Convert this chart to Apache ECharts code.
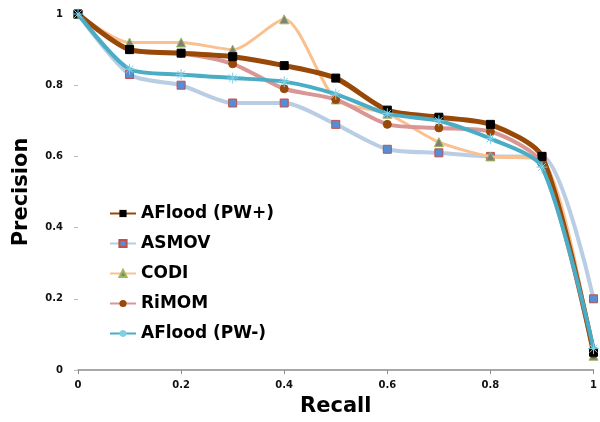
<!DOCTYPE html>
<html><head><meta charset="utf-8">
<script src="https://cdn.jsdelivr.net/npm/echarts@6/dist/echarts.min.js"></script>
<style>html,body{margin:0;padding:0;background:#fff}#c{width:600px;height:422px}</style>
</head><body><div id="c"></div>
<script>
const recall = [0, 0.1, 0.2, 0.3, 0.4, 0.5, 0.6, 0.7, 0.8, 0.9, 1.0];
const afloodPWplus = [1, 0.90, 0.89, 0.88, 0.855, 0.82, 0.73, 0.71, 0.69, 0.60, 0.05];
const asmov        = [1, 0.83, 0.80, 0.75, 0.75, 0.69, 0.62, 0.61, 0.60, 0.60, 0.20];
const codi         = [1, 0.92, 0.92, 0.90, 0.985, 0.76, 0.72, 0.64, 0.60, 0.59, 0.04];
const rimom        = [1, 0.90, 0.89, 0.86, 0.79, 0.76, 0.69, 0.68, 0.67, 0.58, 0.045];
const afloodPWminus= [1, 0.845, 0.83, 0.82, 0.81, 0.775, 0.72, 0.70, 0.65, 0.57, 0.06];
const xTicks = [0, 0.2, 0.4, 0.6, 0.8, 1];
const yTicks = [0, 0.2, 0.4, 0.6, 0.8, 1];

const pairs = a => recall.map((r, i) => [r, a[i]]);
const starPath = 'path://M0,5L10,5M5,0L5,10M1.5,1.5L8.5,8.5M8.5,1.5L1.5,8.5';
const font = 'DejaVu Sans';

const chart = echarts.init(document.getElementById('c'));
chart.setOption({
  animation: false,
  grid: {left: 78, right: 2, top: 14, bottom: 46},
  legend: {
    orient: 'vertical', left: 104, top: 200, itemGap: 13, itemWidth: 26, itemHeight: 9,
    textStyle: {fontFamily: font, fontWeight: 'bold', fontSize: 17, color: '#000'},
    data: ['AFlood (PW+)', 'ASMOV', 'CODI', 'RiMOM', 'AFlood (PW-)']
  },
  xAxis: {
    type: 'value', min: 0, max: 1, interval: 0.2,
    name: 'Recall', nameLocation: 'middle', nameGap: 26,
    nameTextStyle: {fontFamily: font, fontWeight: 'bold', fontSize: 21, color: '#000'},
    axisLine: {lineStyle: {color: '#8c8c8c', width: 1.5}},
    axisTick: {show: true, length: 4, lineStyle: {color: '#8c8c8c'}},
    axisLabel: {fontFamily: font, fontWeight: 'bold', fontSize: 10, color: '#111', margin: 10,
      formatter: v => xTicks.includes(+v.toFixed(1)) ? String(+v.toFixed(1)) : ''},
    splitLine: {show: false}
  },
  yAxis: {
    type: 'value', min: 0, max: 1, interval: 0.2,
    name: 'Precision', nameLocation: 'middle', nameGap: 46,
    nameTextStyle: {fontFamily: font, fontWeight: 'bold', fontSize: 21, color: '#000'},
    axisLine: {show: false},
    axisTick: {show: true, length: 4, lineStyle: {color: '#bbb'}},
    axisLabel: {fontFamily: font, fontWeight: 'bold', fontSize: 10, color: '#111', margin: 15,
      formatter: v => yTicks.includes(+v.toFixed(1)) ? String(+v.toFixed(1)) : ''},
    splitLine: {show: false}
  },
  series: [
    {name: 'ASMOV', type: 'line', smooth: 0.25, data: pairs(asmov), z: 2,
     lineStyle: {color: '#B9CDE5', width: 4}, symbol: 'rect', symbolSize: 8,
     itemStyle: {color: '#558ED5', borderColor: '#C0504D', borderWidth: 1}},
    {name: 'CODI', type: 'line', smooth: 0.25, data: pairs(codi), z: 3,
     lineStyle: {color: '#FAC090', width: 3}, symbol: 'triangle', symbolSize: 9,
     itemStyle: {color: '#7F7F7F', borderColor: '#9BBB59', borderWidth: 1}},
    {name: 'RiMOM', type: 'line', smooth: 0.25, data: pairs(rimom), z: 4,
     lineStyle: {color: '#D99694', width: 4}, symbol: 'circle', symbolSize: 8,
     itemStyle: {color: '#984807', borderColor: '#984807'}},
    {name: 'AFlood (PW+)', type: 'line', smooth: 0.25, data: pairs(afloodPWplus), z: 5,
     lineStyle: {color: '#984807', width: 5}, symbol: 'rect', symbolSize: 8,
     itemStyle: {color: '#000', borderColor: '#000'}},
    {name: 'AFlood (PW-)', type: 'line', smooth: 0.25, data: pairs(afloodPWminus), z: 6,
     lineStyle: {color: '#4BACC6', width: 4}, symbol: starPath, symbolSize: 11,
     itemStyle: {color: 'none', borderColor: '#7fd0e6', borderWidth: 1}}
  ]
});
</script></body></html>
